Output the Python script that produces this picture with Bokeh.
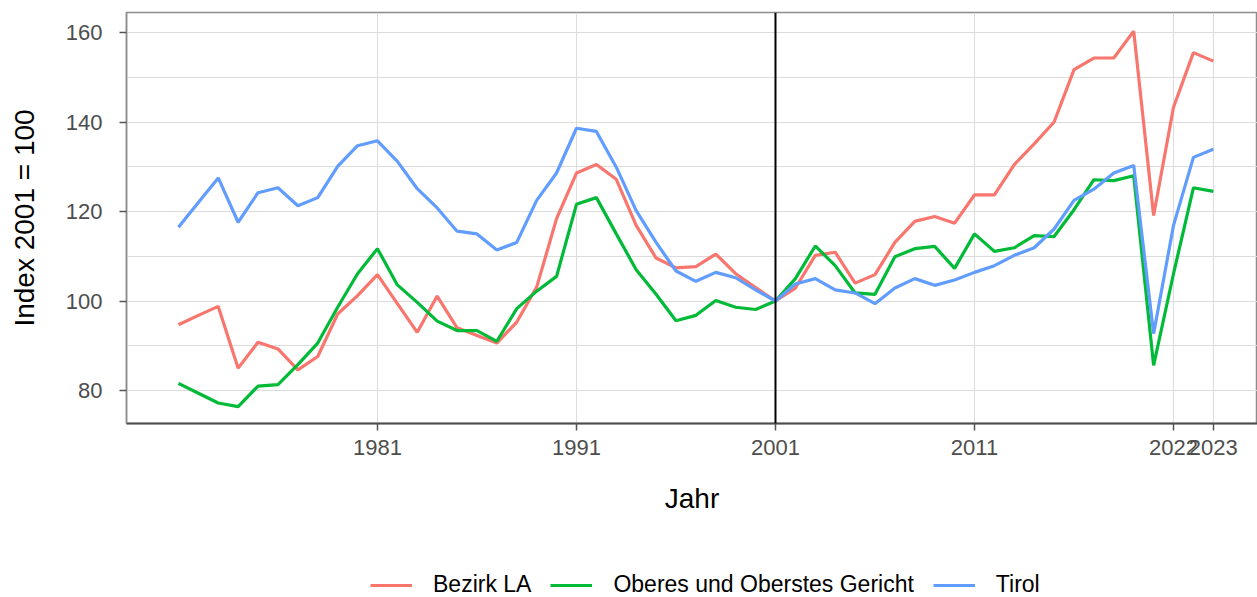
from bokeh.plotting import figure
from bokeh.layouts import column
from bokeh.models import Range1d, FixedTicker, Span, Legend, LegendItem
from bokeh.embed import file_html
from bokeh.resources import INLINE

years = list(range(1971, 2024))
bezirk_la = [94.7, 96.8, 98.8, 85.0, 90.8, 89.3, 84.6, 87.6, 97.1, 101.2,
             105.9, 99.4, 93.0, 101.1, 94.0, 92.3, 90.6, 95.3, 103.1, 118.4,
             128.6, 130.5, 127.2, 116.9, 109.6, 107.4, 107.7, 110.5, 106.1, 103.0,
             100.0, 102.9, 110.2, 110.9, 104.0, 105.9, 113.1, 117.8, 118.9, 117.4,
             123.7, 123.7, 130.5, 135.1, 140.0, 151.7, 154.3, 154.3, 160.3, 119.1,
             143.3, 155.5, 153.6]
gericht = [81.6, 79.4, 77.2, 76.4, 81.0, 81.3, 85.8, 90.6, 98.6, 106.1,
           111.7, 103.6, 99.7, 95.5, 93.4, 93.4, 91.0, 98.3, 102.2, 105.5,
           121.6, 123.1, 115.0, 107.0, 101.5, 95.6, 96.8, 100.1, 98.6, 98.1,
           100.0, 105.0, 112.3, 107.9, 101.8, 101.5, 109.9, 111.7, 112.2, 107.3,
           115.0, 111.1, 111.9, 114.6, 114.4, 120.4, 127.1, 126.9, 128.0, 85.6,
           106.1, 125.3, 124.5]
tirol = [116.5, 122.0, 127.5, 117.6, 124.2, 125.3, 121.3, 123.1, 130.1, 134.7,
         135.8, 131.2, 125.1, 120.8, 115.6, 115.0, 111.4, 113.1, 122.5, 128.6,
         138.6, 137.9, 129.9, 120.2, 113.1, 106.7, 104.4, 106.4, 105.2, 102.5,
         100.0, 103.8, 105.0, 102.5, 101.8, 99.4, 102.9, 105.0, 103.5, 104.7,
         106.4, 107.9, 110.2, 111.9, 116.1, 122.5, 125.0, 128.6, 130.3, 92.7,
         116.9, 132.1, 133.9]

series_names = ["Bezirk LA", "Oberes und Oberstes Gericht", "Tirol"]
series_colors = ["#F8766D", "#00BA38", "#619CFF"]
x_tick_values = [1981, 1991, 2001, 2011, 2021, 2023]
x_tick_labels = ["1981", "1991", "2001", "2011", "2022", "2023"]
y_tick_values = [80, 100, 120, 140, 160]
y_grid_values = [70, 80, 90, 100, 110, 120, 130, 140, 150, 160, 170]
ref_year = 2001

FONT = "Liberation Sans"
LINE_W = 3.2
all_series = [bezirk_la, gericht, tirol]

p = figure(width=1257, height=530, output_backend="svg", toolbar_location=None,
           x_range=Range1d(1968.39, 2025.22), y_range=Range1d(72.63, 164.47),
           min_border_left=126, min_border_right=0, min_border_top=12,
           min_border_bottom=107)

p.background_fill_color = "white"
p.border_fill_color = "white"
p.outline_line_color = "#8c8c8c"
p.outline_line_width = 1.5

for name, vals, col in zip(series_names, all_series, series_colors):
    p.line(years, vals, line_color=col, line_width=LINE_W)

p.add_layout(Span(location=ref_year, dimension="height", line_color="black", line_width=2))

p.xaxis.ticker = FixedTicker(ticks=x_tick_values, minor_ticks=[])
p.xaxis.major_label_overrides = {v: l for v, l in zip(x_tick_values, x_tick_labels)}
p.yaxis.ticker = FixedTicker(ticks=y_tick_values, minor_ticks=y_grid_values)

p.xgrid.grid_line_color = "#dcdcdc"
p.ygrid.grid_line_color = "#dcdcdc"
p.ygrid.minor_grid_line_color = "#dcdcdc"

p.xaxis.axis_label = "Jahr"
p.yaxis.axis_label = "Index 2001 = 100"
for ax in (p.xaxis, p.yaxis):
    ax.axis_label_text_font = FONT
    ax.axis_label_text_font_size = "28px"
    ax.axis_label_text_font_style = "normal"
    ax.axis_label_text_color = "black"
    ax.major_label_text_font = FONT
    ax.major_label_text_font_size = "22px"
    ax.major_label_text_color = "#4d4d4d"
    ax.major_tick_line_color = "#555555"
    ax.major_tick_line_width = 1.5
    ax.major_tick_out = 7
    ax.major_tick_in = 0
    ax.minor_tick_line_color = None

p.xaxis.axis_line_color = "#4d4d4d"
p.xaxis.axis_line_width = 2
p.yaxis.axis_line_color = "#8c8c8c"
p.yaxis.axis_line_width = 1.5
p.xaxis.major_label_standoff = 9
p.yaxis.major_label_standoff = 17
p.xaxis.axis_label_standoff = 25
p.yaxis.axis_label_standoff = 23

# legend strip below the plot (its series lie outside this strip's ranges,
# so only the legend entries are visible)
pl = figure(width=1257, height=67, output_backend="svg", toolbar_location=None,
            x_range=Range1d(0, 1), y_range=Range1d(0, 1),
            min_border_left=0, min_border_right=0, min_border_top=0,
            min_border_bottom=0)
pl.axis.visible = False
pl.grid.visible = False
pl.outline_line_color = None
pl.background_fill_color = "white"
pl.border_fill_color = "white"

items = []
for name, vals, col in zip(series_names, all_series, series_colors):
    r = pl.line(years, vals, line_color=col, line_width=LINE_W)
    items.append(LegendItem(label=name, renderers=[r]))

legend = Legend(items=items, orientation="horizontal", location=(244, -1),
                padding=0, margin=0, spacing=19, glyph_width=42, glyph_height=24,
                label_height=24, label_standoff=21,
                label_text_font=FONT, label_text_font_size="23px",
                label_text_color="black",
                border_line_color=None, background_fill_alpha=0)
pl.add_layout(legend, "center")

layout = column(p, pl, spacing=0)
open("out.html", "w").write(file_html(layout, INLINE))
